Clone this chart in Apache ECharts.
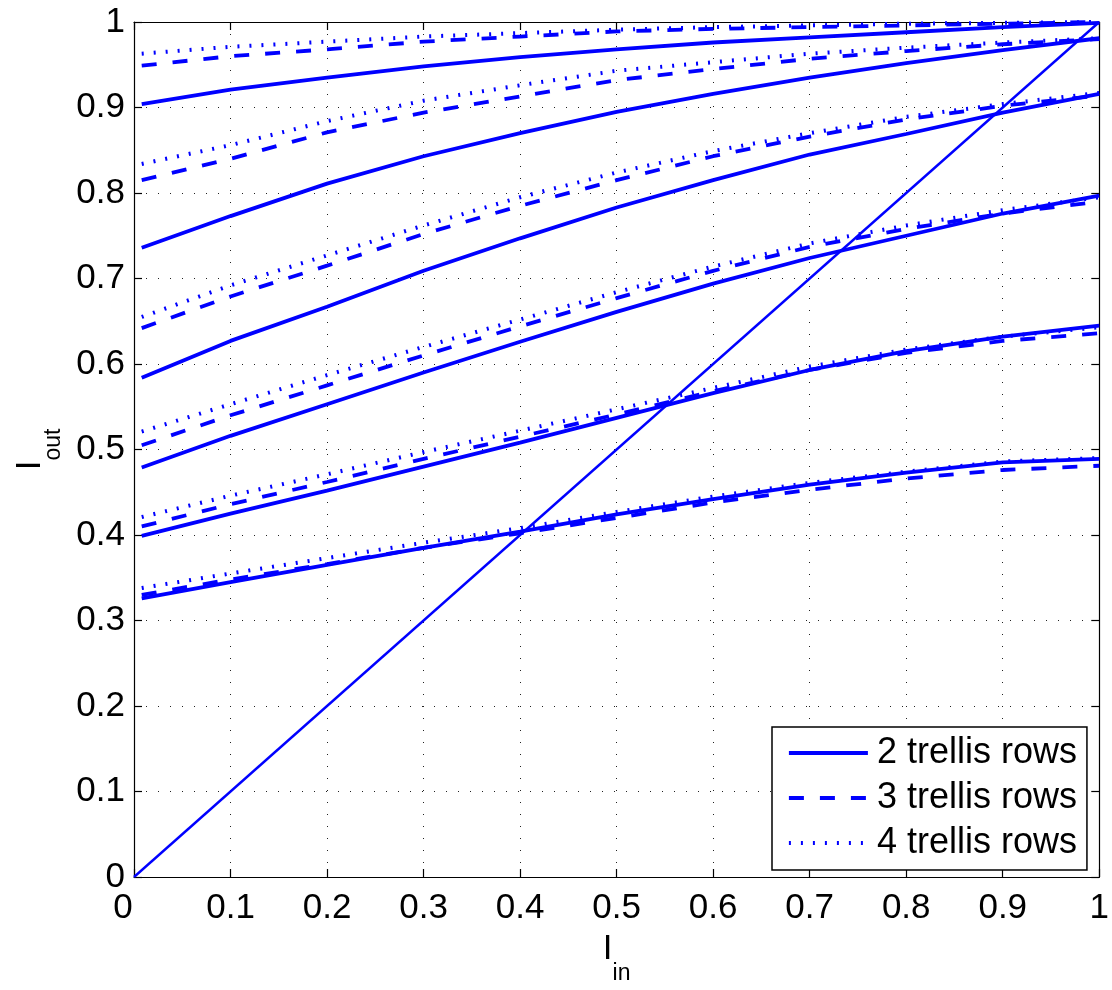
<!DOCTYPE html>
<html>
<head>
<meta charset="utf-8">
<script src="https://cdn.jsdelivr.net/npm/echarts@6/dist/echarts.min.js"></script>
<style>
html,body{margin:0;padding:0;background:#fff;}
#chart{width:1112px;height:990px;}
</style>
</head>
<body>
<div id="chart"></div>
<script>
// Input I_in values (x)
const xIn = [0.008, 0.1, 0.2, 0.3, 0.4, 0.5, 0.6, 0.7, 0.8, 0.9, 1.0];
// Tick values
const ticks = [0, 0.1, 0.2, 0.3, 0.4, 0.5, 0.6, 0.7, 0.8, 0.9, 1];
const legendNames = ['2 trellis rows', '3 trellis rows', '4 trellis rows'];

// 2 trellis rows (solid), six curve families from top to bottom
const rows2_f1 = [0.904, 0.921, 0.935, 0.948, 0.959, 0.968, 0.976, 0.982, 0.988, 0.994, 0.999];
const rows2_f2 = [0.736, 0.773, 0.811, 0.843, 0.870, 0.895, 0.916, 0.935, 0.952, 0.967, 0.981];
const rows2_f3 = [0.584, 0.627, 0.667, 0.709, 0.747, 0.783, 0.815, 0.845, 0.869, 0.894, 0.916];
const rows2_f4 = [0.479, 0.516, 0.553, 0.590, 0.626, 0.661, 0.694, 0.724, 0.750, 0.776, 0.797];
const rows2_f5 = [0.399, 0.425, 0.452, 0.480, 0.508, 0.537, 0.566, 0.593, 0.615, 0.632, 0.645];
const rows2_f6 = [0.326, 0.345, 0.365, 0.385, 0.404, 0.424, 0.442, 0.459, 0.473, 0.485, 0.489];

// 3 trellis rows (dashed)
const rows3_f1 = [0.949, 0.960, 0.968, 0.977, 0.983, 0.989, 0.992, 0.994, 0.996, 0.998, 1.000];
const rows3_f2 = [0.815, 0.840, 0.871, 0.894, 0.913, 0.932, 0.945, 0.957, 0.966, 0.974, 0.980];
const rows3_f3 = [0.642, 0.679, 0.715, 0.752, 0.785, 0.815, 0.843, 0.866, 0.886, 0.902, 0.914];
const rows3_f4 = [0.505, 0.540, 0.575, 0.610, 0.644, 0.677, 0.709, 0.737, 0.758, 0.776, 0.790];
const rows3_f5 = [0.410, 0.436, 0.462, 0.489, 0.515, 0.541, 0.568, 0.593, 0.613, 0.627, 0.636];
const rows3_f6 = [0.330, 0.348, 0.366, 0.385, 0.402, 0.420, 0.438, 0.453, 0.466, 0.476, 0.481];

// 4 trellis rows (dotted)
const rows4_f1 = [0.963, 0.971, 0.977, 0.983, 0.987, 0.991, 0.994, 0.996, 0.998, 0.999, 1.000];
const rows4_f2 = [0.834, 0.856, 0.884, 0.908, 0.926, 0.943, 0.953, 0.963, 0.970, 0.976, 0.981];
const rows4_f3 = [0.655, 0.692, 0.727, 0.762, 0.795, 0.824, 0.849, 0.870, 0.889, 0.904, 0.917];
const rows4_f4 = [0.521, 0.553, 0.587, 0.620, 0.652, 0.684, 0.714, 0.741, 0.762, 0.780, 0.795];
const rows4_f5 = [0.421, 0.446, 0.471, 0.497, 0.522, 0.547, 0.572, 0.597, 0.617, 0.632, 0.643];
const rows4_f6 = [0.338, 0.355, 0.373, 0.391, 0.408, 0.427, 0.445, 0.461, 0.474, 0.486, 0.490];

// Reference diagonal I_out = I_in
const diagX = [0, 1];
const diagY = [0, 1];

const BLUE = '#0000ff';
const FONT = 'Liberation Sans, Arial, Helvetica, sans-serif';

function pairs(xs, ys){ return xs.map((x,i)=>[x, ys[i]]); }

const styles = {
  '2 trellis rows': {type:'solid', width:3.8},
  '3 trellis rows': {type:[15,16], width:3.8},
  '4 trellis rows': {type:[2,10], width:4}
};

const groups = [
  ['2 trellis rows', [rows2_f1, rows2_f2, rows2_f3, rows2_f4, rows2_f5, rows2_f6]],
  ['3 trellis rows', [rows3_f1, rows3_f2, rows3_f3, rows3_f4, rows3_f5, rows3_f6]],
  ['4 trellis rows', [rows4_f1, rows4_f2, rows4_f3, rows4_f4, rows4_f5, rows4_f6]]
];

const series = [];
groups.forEach(([name, arrs]) => {
  arrs.forEach(ys => {
    series.push({
      name: name, type:'line', symbol:'none', showSymbol:false, smooth:false,
      data: pairs(xIn, ys),
      lineStyle: {color: BLUE, width: styles[name].width, type: styles[name].type, cap:'butt'},
      itemStyle: {color: BLUE},
      emphasis: {disabled:true}, animation:false, z:3
    });
  });
});
series.push({
  name: 'diag', type:'line', symbol:'none', data: pairs(diagX, diagY),
  lineStyle:{color:BLUE, width:2.4}, emphasis:{disabled:true}, animation:false, z:3
});

const gridLine = {show:true, lineStyle:{color:'#222', width:1, type:[1,11]}};
const tickFmt = v => {
  const r = Math.round(v*10)/10;
  if (r === 0) return '{z|0}';
  return String(r);
};

const chart = echarts.init(document.getElementById('chart'), null, {renderer:'canvas'});
chart.setOption({
  backgroundColor:'#fff',
  animation:false,
  textStyle:{fontFamily:FONT},
  grid:{left:134, right:12, top:22, bottom:108, containLabel:false},
  legend:{
    data: legendNames,
    orient:'vertical', left:772, top:727,
    backgroundColor:'#fff', borderColor:'#000', borderWidth:1.5, borderRadius:0,
    padding:[6,10,7,15], itemWidth:79, itemHeight:20, itemGap:5,
    selectedMode:false,
    itemStyle:{opacity:0},
    lineStyle:{width:3.8},
    textStyle:{fontSize:36, color:'#000', fontFamily:FONT, lineHeight:40, padding:[0,0,0,4]},
    z:10
  },
  xAxis:[{
    type:'value', min:0, max:1, interval:0.1, position:'bottom',
    axisLine:{show:true, onZero:false, lineStyle:{color:'#000', width:1.2}},
    axisTick:{show:true, inside:true, length:8, lineStyle:{color:'#000', width:1.2}},
    axisLabel:{fontSize:35, color:'#000', fontFamily:FONT, margin:14, formatter:tickFmt,
      rich:{z:{fontSize:35, color:'#000', fontFamily:FONT, padding:[0,22,0,0]}}},
    splitLine:gridLine,
    name:'{i|I}{s|in}', nameLocation:'middle', nameGap:55,
    nameTextStyle:{rich:{
      i:{fontSize:35, color:'#000', fontFamily:FONT, lineHeight:35, verticalAlign:'top'},
      s:{fontSize:23, color:'#000', fontFamily:FONT, lineHeight:23, verticalAlign:'top', padding:[30,0,0,0]}
    }}
  },{
    type:'value', min:0, max:1, interval:0.1, position:'top',
    axisLine:{show:true, onZero:false, lineStyle:{color:'#000', width:1.2}},
    axisTick:{show:true, inside:true, length:8, lineStyle:{color:'#000', width:1.2}},
    axisLabel:{show:false}, splitLine:{show:false}
  }],
  yAxis:[{
    type:'value', min:0, max:1, interval:0.1, position:'left',
    axisLine:{show:true, onZero:false, lineStyle:{color:'#000', width:1.2}},
    axisTick:{show:true, inside:true, length:8, lineStyle:{color:'#000', width:1.2}},
    axisLabel:{fontSize:35, color:'#000', fontFamily:FONT, margin:9,
      formatter: v => String(Math.round(v*10)/10)},
    splitLine:gridLine,
    name:'{i|I}{s|out}', nameLocation:'middle', nameGap:76, nameRotate:90,
    nameTextStyle:{rich:{
      i:{fontSize:35, color:'#000', fontFamily:FONT, lineHeight:35, verticalAlign:'top'},
      s:{fontSize:23, color:'#000', fontFamily:FONT, lineHeight:23, verticalAlign:'top', padding:[30,0,0,0]}
    }}
  },{
    type:'value', min:0, max:1, interval:0.1, position:'right',
    axisLine:{show:true, onZero:false, lineStyle:{color:'#000', width:1.2}},
    axisTick:{show:true, inside:true, length:8, lineStyle:{color:'#000', width:1.2}},
    axisLabel:{show:false}, splitLine:{show:false}
  }],
  series: series
});
</script>
</body>
</html>
